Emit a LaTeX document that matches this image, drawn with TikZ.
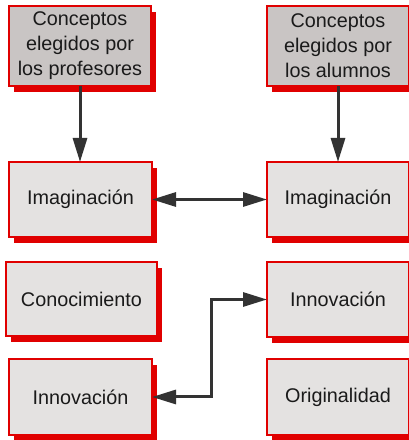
\documentclass[tikz,border=0pt]{standalone}
\usepackage{fontspec}
\setmainfont{Liberation Sans}
\usetikzlibrary{arrows.meta,shadows}
\definecolor{boxred}{HTML}{E00000}
\definecolor{boxfill}{HTML}{E4E2E1}
\definecolor{topfill}{HTML}{C9C5C4}
\definecolor{arr}{HTML}{333333}
\definecolor{txt}{HTML}{1A1A1A}
\begin{document}
\begin{tikzpicture}[x=1pt,y=1pt,
  box/.style={draw=boxred, line width=1.2pt, fill=boxfill,
    minimum width=142pt, minimum height=75pt, inner sep=0pt, outer sep=0pt,
    align=center, font=\fontsize{19.8}{25}\selectfont, text=txt,
    general shadow={fill=boxred, draw=none, shadow xshift=5pt, shadow yshift=-6pt}},
  topbox/.style={box, fill=topfill, minimum height=80pt},
  tip/.tip={Triangle[length=24pt,width=14pt]},
  conn/.style={draw=arr, line width=3pt, line join=miter},
]
\useasboundingbox (0,0) rectangle (409,440);
\clip (0,0) rectangle (409,440);

\node[topbox] (P) at (80,394) {Conceptos\\elegidos por\\los profesores};
\node[topbox] (A) at (338,394) {Conceptos\\elegidos por\\los alumnos};
\node[box, minimum width=143pt] (ImL) at (80.5,240.5) {Imaginación};
\node[box] (ImR) at (338,240.5) {Imaginación};
\node[box, minimum width=151pt, minimum height=74pt] (Con) at (81.5,141) {Conocimiento};
\node[box] (InnR) at (338,140.5) {Innovación};
\node[box, minimum width=143pt, minimum height=76pt] (InnL) at (80.5,43) {Innovación};
\node[box, minimum height=76pt] (Orig) at (338,43) {Originalidad};

\draw[conn, -tip] (P.south) -- (P.south |- ImL.north);
\draw[conn, -tip] (A.south) -- (A.south |- ImR.north);
\draw[conn, tip-tip] (ImL.east) -- (ImR.west);
\draw[conn, tip-tip] (InnR.west) -- ++(-56,0) |- (InnL.east);
\end{tikzpicture}
\end{document}
